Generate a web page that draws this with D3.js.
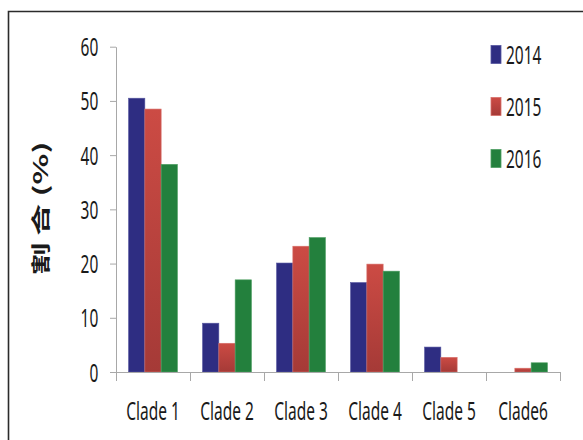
<!DOCTYPE html>
<html><head><meta charset="utf-8">
<script src="https://cdn.jsdelivr.net/npm/d3@7/dist/d3.min.js"></script>
<style>
html,body{margin:0;padding:0;background:#fff;}
svg{display:block;}
text{font-family:"Noto Sans",sans-serif;fill:#1a1a1a;}
</style></head>
<body>
<svg id="chart" width="583" height="440"></svg>
<script>
const categories = ["Clade 1","Clade 2","Clade 3","Clade 4","Clade 5","Clade6"];
const seriesNames = ["2014","2015","2016"];
const values2014 = [50.5, 9.0, 20.1, 16.5, 4.6, 0];
const values2015 = [48.5, 5.3, 23.2, 19.9, 2.7, 0.7];
const values2016 = [38.3, 17.0, 24.8, 18.6, 0, 1.7];
const yTicks = [0, 10, 20, 30, 40, 50, 60];
const yTitle = "割 合 (%)";

const allValues = [values2014, values2015, values2016];
const colors = ["#2e2d82", "#c5443e", "#23803d"];
const SX = 0.62;

const svg = d3.select("#chart");

const defs = svg.append("defs");
const g1 = defs.append("linearGradient").attr("id","redGrad").attr("x1",0).attr("y1",0).attr("x2",0).attr("y2",1);
g1.append("stop").attr("offset","0%").attr("stop-color","#cc4b44");
g1.append("stop").attr("offset","100%").attr("stop-color","#a53a37");
const fills = [colors[0], "url(#redGrad)", colors[2]];
const strokes = ["#5656a0", "#d8706a", "#4f9f63"];

// frame
svg.append("path").attr("d","M8.5,440 L8.5,11.5 L583,11.5").attr("fill","none").attr("stroke","#2b2b2b").attr("stroke-width",1.6);

const x = d3.scaleBand().domain(categories).range([116, 560]).paddingInner(0).paddingOuter(0);
const xs = d3.scaleBand().domain(seriesNames).range([0, x.bandwidth()]).paddingInner(0).paddingOuter(0.77);
const y = d3.scaleLinear().domain([0, 60]).range([372, 46.7]);

// y axis
const yAxis = svg.append("g").attr("transform","translate(116,0)")
  .call(d3.axisLeft(y).tickValues(yTicks).tickSize(6).tickSizeOuter(0).tickPadding(0));
yAxis.select(".domain").attr("stroke","#a8a8a8");
yAxis.selectAll(".tick line").attr("stroke","#a8a8a8");
yAxis.selectAll(".tick text")
  .attr("x", -17.7 / SX)
  .attr("dy","0.36em")
  .attr("transform", `scale(${SX},1)`)
  .style("font-size","25px").style("font-family","'Noto Sans',sans-serif").attr("fill","#1a1a1a");

// bars
categories.forEach((c, i) => {
  seriesNames.forEach((s, j) => {
    const v = allValues[j][i];
    if (v <= 0) return;
    svg.append("rect")
      .attr("x", x(c) + xs(s))
      .attr("y", y(v))
      .attr("width", xs.bandwidth())
      .attr("height", y(0) - y(v))
      .attr("fill", fills[j])
      .attr("stroke", strokes[j]).attr("stroke-width", 0.6);
  });
});

// x axis
const xAxis = svg.append("g").attr("transform","translate(0,372)")
  .call(d3.axisBottom(x).tickSize(0).tickPadding(0).tickSizeOuter(0));
xAxis.select(".domain").attr("stroke","#a8a8a8");
xAxis.selectAll(".tick text")
  .attr("y", 0).attr("dy", 0)
  .attr("transform", `translate(0,48) scale(${SX},1)`)
  .style("font-size","25px").style("font-family","'Noto Sans',sans-serif").attr("fill","#1a1a1a");
const bounds = categories.map(c => x(c)).concat([x.range()[1]]);
svg.append("g").selectAll("line").data(bounds).join("line")
  .attr("x1", d => d + 0.5).attr("x2", d => d + 0.5)
  .attr("y1", 372).attr("y2", 381)
  .attr("stroke", "#a8a8a8");

// y title
svg.append("text")
  .attr("transform", `translate(48,275) scale(${SX},1) rotate(-90)`)
  .attr("text-anchor","start")
  .style("font-family","'Noto Sans CJK SC','Noto Sans CJK JP',sans-serif")
  .style("font-size","32px").style("font-weight","bold")
  .attr("fill","#1a1a1a")
  .text(yTitle);

// legend
const legend = svg.append("g");
seriesNames.forEach((s, j) => {
  const cy = 54.5 + j * 52;
  legend.append("rect").attr("x", 491).attr("y", cy - 9).attr("width", 10).attr("height", 18)
    .attr("fill", fills[j]).attr("stroke", strokes[j]).attr("stroke-width", 0.8);
  legend.append("text")
    .attr("transform", `translate(506,${cy}) scale(${SX},1)`)
    .attr("dy","0.36em")
    .style("font-size","25px")
    .text(s);
});
</script>
</body></html>
